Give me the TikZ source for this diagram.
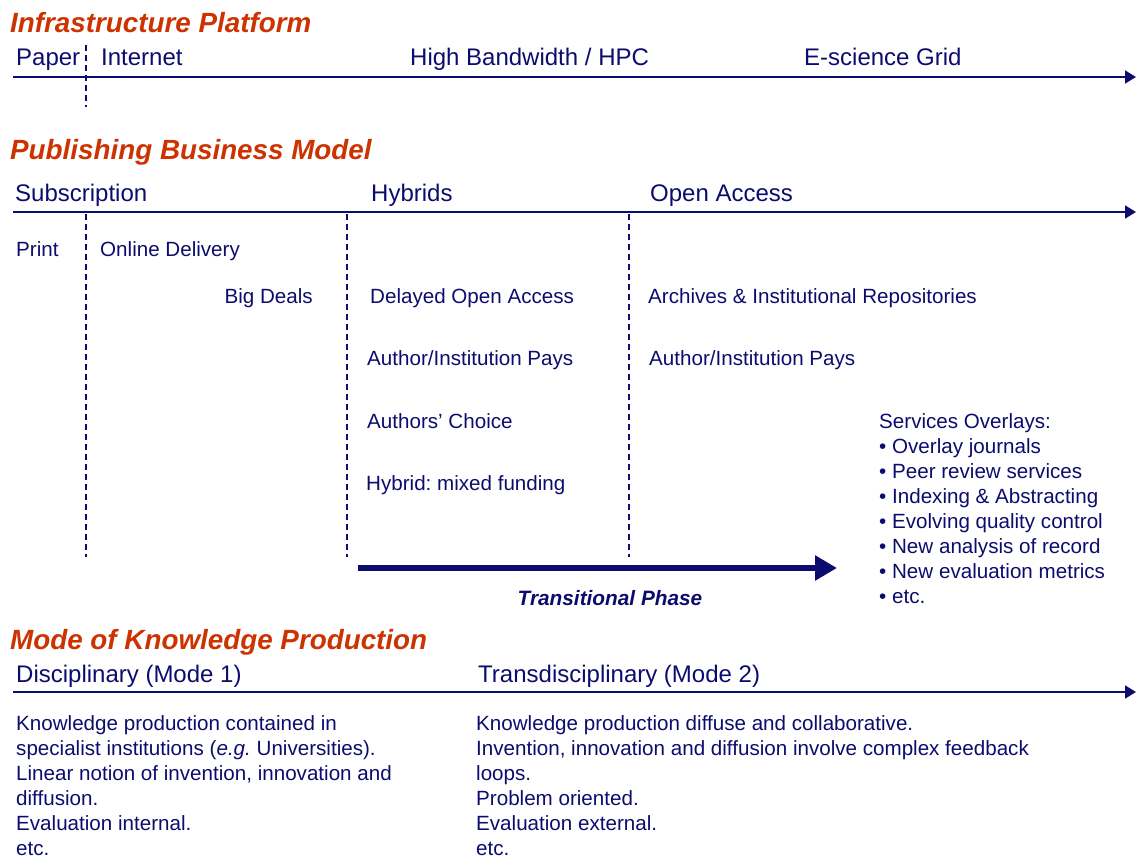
\documentclass[tikz,border=0pt]{standalone}
\usepackage{fontspec}
\setmainfont{Liberation Sans}
\usetikzlibrary{arrows.meta}
\frenchspacing
\definecolor{navy}{RGB}{12,12,110}
\definecolor{titlered}{RGB}{204,51,0}
\tikzset{
  ttl/.style={anchor=base west, inner sep=0pt, text=titlered, font=\fontsize{27.8}{30}\selectfont\bfseries\itshape},
  hdr/.style={anchor=base west, inner sep=0pt, text=navy, font=\fontsize{24}{28}\selectfont},
  bdy/.style={anchor=base west, inner sep=0pt, text=navy, font=\fontsize{20.6}{25}\selectfont},
  axis/.style={draw=navy, line width=1.8pt, -{Triangle[length=11pt,width=13pt]}},
  divider/.style={draw=navy, line width=1.2pt, dash pattern=on 6pt off 4pt},
  bigarrow/.style={draw=navy, line width=6pt, -{Triangle[length=22pt,width=24pt]}},
}
\begin{document}
\begin{tikzpicture}[x=1pt,y=-1pt]
\useasboundingbox (0,0) rectangle (1136,859);
% Infrastructure
\node[ttl] (t1) at (10,33) {Infrastructure Platform};
\node[hdr] (paper) at (16,66) {Paper};
\node[hdr] (internet) at (101,66) {Internet};
\node[hdr] (hpc) at (410,66) {High Bandwidth / HPC};
\node[hdr] (grid) at (804,66) {E-science Grid};
\coordinate (a1s) at (13,77);
\coordinate (a1e) at (1136,77);
\draw[axis] (a1s) -- (a1e);
\coordinate (d0t) at (86,45);
\coordinate (d0b) at (86,107);
\draw[divider] (d0t) -- (d0b);
% Publishing
\node[ttl] (t2) at (10,159) {Publishing Business Model};
\node[hdr] (subs) at (15,201) {Subscription};
\node[hdr] (hyb) at (371,201) {Hybrids};
\node[hdr] (oa) at (650,201) {Open Access};
\coordinate (a2s) at (13,212);
\coordinate (a2e) at (1136,212);
\draw[axis] (a2s) -- (a2e);
\foreach \x/\n in {86/p, 347/q, 629/r}{
  \coordinate (\n t) at (\x,214);
  \coordinate (\n b) at (\x,557);
  \draw[divider] (\n t) -- (\n b);
}
\node[bdy] (print) at (16,256) {Print};
\node[bdy] (online) at (100,256) {Online Delivery};
\node[bdy, anchor=base east] (big) at (313,303) {Big Deals};
\node[bdy] (doa) at (370,303) {Delayed Open Access};
\node[bdy] (arch) at (648,303) {Archives \& Institutional Repositories};
\node[bdy] (aip1) at (367,365) {Author/Institution Pays};
\node[bdy] (aip2) at (649,365) {Author/Institution Pays};
\node[bdy] (ac) at (367,428) {Authors’ Choice};
\node[bdy] (hmf) at (366,490) {Hybrid: mixed funding};
\node[bdy, align=left] (serv) at (879,603) {Services Overlays:\\• Overlay journals\\• Peer review services\\• Indexing \& Abstracting\\• Evolving quality control\\• New analysis of record\\• New evaluation metrics\\• etc.};
\coordinate (tps) at (358,568);
\coordinate (tpe) at (837,568);
\draw[bigarrow] (tps) -- (tpe);
\node[anchor=base, inner sep=0pt, text=navy, font=\fontsize{20.8}{25}\selectfont\bfseries\itshape] (tp) at (610,605) {Transitional Phase};
% Knowledge production
\node[ttl] (t3) at (10,649) {Mode of Knowledge Production};
\node[hdr] (m1) at (16,682) {Disciplinary (Mode 1)};
\node[hdr] (m2) at (478,682) {Transdisciplinary (Mode 2)};
\coordinate (a3s) at (13,692);
\coordinate (a3e) at (1136,692);
\draw[axis] (a3s) -- (a3e);
\node[bdy, align=left] (m1t) at (16,855) {Knowledge production contained in\\specialist institutions (\textit{e.g.} Universities).\\Linear notion of invention, innovation and\\diffusion.\\Evaluation internal.\\etc.};
\node[bdy, align=left] (m2t) at (476,855) {Knowledge production diffuse and collaborative.\\Invention, innovation and diffusion involve complex feedback\\loops.\\Problem oriented.\\Evaluation external.\\etc.};
\end{tikzpicture}
\end{document}
